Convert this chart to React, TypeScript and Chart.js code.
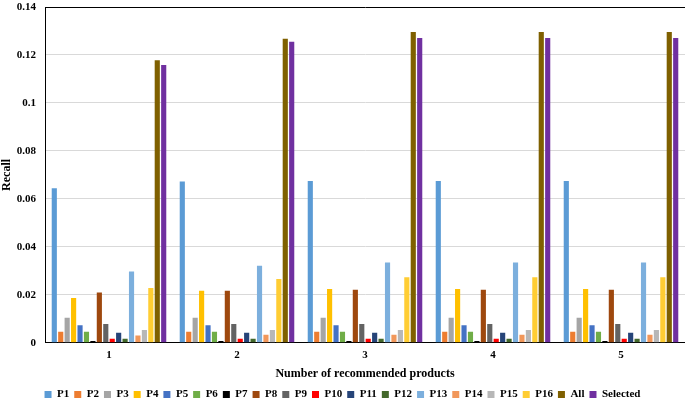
import React, { useEffect, useRef } from "react";
import { Chart, registerables } from "chart.js";

Chart.register(...registerables);

const categories = ["1", "2", "3", "4", "5"];
const seriesNames = ["P1", "P2", "P3", "P4", "P5", "P6", "P7", "P8", "P9", "P10", "P11", "P12", "P13", "P14", "P15", "P16", "All", "Selected"];
const seriesColors = ["#5B9BD5", "#ED7D31", "#A5A5A5", "#FFC000", "#4472C4", "#70AD47", "#000000", "#9E480E", "#636363", "#FF0000", "#264478", "#43682B", "#7CAFDD", "#F1975A", "#B7B7B7", "#FFCD33", "#7F6000", "#7030A0"];

const P1 = [0.0644, 0.0672, 0.0675, 0.0675, 0.0675];
const P2 = [0.0046, 0.0046, 0.0046, 0.0046, 0.0046];
const P3 = [0.0104, 0.0104, 0.0104, 0.0104, 0.0104];
const P4 = [0.0187, 0.0217, 0.0224, 0.0224, 0.0224];
const P5 = [0.0073, 0.0073, 0.0073, 0.0073, 0.0073];
const P6 = [0.0046, 0.0046, 0.0046, 0.0046, 0.0046];
const P7 = [0.0008, 0.0008, 0.0008, 0.0008, 0.0008];
const P8 = [0.021, 0.0217, 0.0221, 0.0221, 0.0221];
const P9 = [0.0078, 0.0078, 0.0078, 0.0078, 0.0078];
const P10 = [0.0017, 0.0017, 0.0017, 0.0017, 0.0017];
const P11 = [0.0042, 0.0042, 0.0042, 0.0042, 0.0042];
const P12 = [0.0017, 0.0017, 0.0017, 0.0017, 0.0017];
const P13 = [0.0297, 0.0321, 0.0335, 0.0335, 0.0335];
const P14 = [0.003, 0.0034, 0.0034, 0.0034, 0.0034];
const P15 = [0.0053, 0.0053, 0.0053, 0.0053, 0.0053];
const P16 = [0.0228, 0.0266, 0.0273, 0.0273, 0.0273];
const All = [0.1178, 0.1268, 0.1296, 0.1296, 0.1296];
const Selected = [0.1158, 0.1255, 0.1271, 0.1271, 0.1271];

const seriesValues = [P1, P2, P3, P4, P5, P6, P7, P8, P9, P10, P11, P12, P13, P14, P15, P16, All, Selected];

const yTicks = [0, 0.02, 0.04, 0.06, 0.08, 0.1, 0.12, 0.14];

const FONT = "'Liberation Serif', 'Times New Roman', serif";

export default function App() {
  const ref = useRef<HTMLCanvasElement | null>(null);

  useEffect(() => {
    if (!ref.current) return;
    const chart = new Chart(ref.current, {
      type: "bar",
      data: {
        labels: categories,
        datasets: seriesNames.map((name, i) => ({
          label: name,
          data: seriesValues[i],
          backgroundColor: seriesColors[i],
          borderWidth: 0,
          categoryPercentage: 0.905,
          barPercentage: 0.8,
        })),
      },
      options: {
        responsive: false,
        animation: false,
        layout: { padding: { left: 0, right: 0, top: 7, bottom: -4 } },
        plugins: {
          legend: {
            position: "bottom",
            labels: {
              boxWidth: 7,
              boxHeight: 7,
              padding: 5,
              color: "#000",
              font: { family: FONT, size: 11, weight: "bold" },
            },
          },
          tooltip: { enabled: false },
        },
        scales: {
          x: {
            grid: { display: false, drawTicks: false },
            border: { display: true, color: "#000", width: 1 },
            ticks: { color: "#000", font: { family: FONT, size: 11, weight: "bold" }, padding: 6 },
            title: {
              display: true,
              text: "Number of recommended products",
              color: "#000",
              font: { family: FONT, size: 12, weight: "bold", lineHeight: 1 },
              padding: { top: 0, bottom: 4 },
            },
          },
          y: {
            min: 0,
            max: 0.14,
            afterFit: (axis: any) => {
              axis.width = 45;
              axis.paddingTop = 0;
              axis.paddingBottom = 0;
            },
            afterBuildTicks: (axis: any) => {
              axis.ticks = yTicks.map((v) => ({ value: v }));
            },
            grid: {
              color: (ctx: any) => (ctx.tick && ctx.tick.value === 0.14 ? "#000" : "#D9D9D9"),
              lineWidth: 1,
              drawTicks: false,
            },
            border: { display: true, color: "#000", width: 1 },
            ticks: {
              color: "#000",
              padding: 9,
              font: { family: FONT, size: 11, weight: "bold" },
              callback: (v: any) => String(Math.round(Number(v) * 100) / 100),
            },
            title: {
              display: true,
              text: "Recall",
              color: "#000",
              font: { family: FONT, size: 12, weight: "bold" },
              padding: { top: 0, bottom: 0 },
            },
          },
        },
      },
    });
    return () => chart.destroy();
  }, []);

  return (
    <div style={{ position: "absolute", left: 0, top: 0, width: 685, height: 406, background: "#fff" }}>
      <canvas ref={ref} width={685} height={406} />
    </div>
  );
}
